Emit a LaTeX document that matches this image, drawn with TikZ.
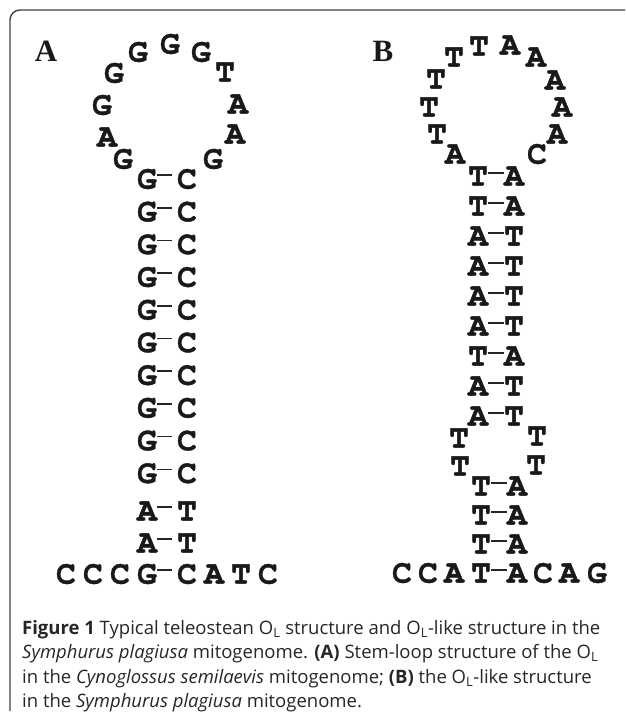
\documentclass[tikz,border=0pt]{standalone}
\usepackage{fontspec}
\newfontfamily\capfont{Open Sans}
\newfontfamily\labfont{Liberation Serif}
\newfontfamily\ntfont{texgyrecursor-bold.otf}[FakeBold=1.2]
\begin{document}
\begin{tikzpicture}[x=1pt,y=-1pt]
\tikzset{
 nt/.style={font=\ntfont\fontsize{33}{33}\selectfont, inner sep=0pt, text=black!90},
 lab/.style={font=\labfont\bfseries\fontsize{31}{31}\selectfont, inner sep=0pt, text=black!90},
 bond/.style={line width=1.6pt, black!85},
 frame/.style={line width=1.4pt, black!75, rounded corners=10pt},
 captext/.style={font=\capfont\fontsize{18.5}{24}\selectfont, anchor=base west, inner sep=0pt, text=black!85}
}
\useasboundingbox (0,0) rectangle (625,712);
\draw[frame] (625,10) -- (10,10) -- (10,711);
% labels
\node[lab] (labA) at (46,51) {A};
\node[lab] (labB) at (383,51) {B};
% loop A
\foreach \n/\x/\y/\t in {1/123/159/G,2/107/137/A,3/102/105/G,4/114/73/G,5/138/52/G,6/170/44/G,7/201/52/G,8/225/72/T,9/238/104/A,10/235/134/A,11/213/159/G}
  \node[nt] (aL\n) at (\x,\y) {\t};
% stem A
\foreach \i/\y/\l/\r in {0/179/G/C,1/211.7/G/C,2/244.4/G/C,3/277.1/G/C,4/309.8/G/C,5/342.5/G/C,6/375.2/G/C,7/407.9/G/C,8/440.6/G/C,9/473.3/G/C,10/511/A/T,11/543/A/T,12/574/G/C}{
  \node[nt] (aS\i) at (147,\y) {\l};
  \node[nt] (aT\i) at (187,\y) {\r};
  \draw[bond, shorten >=5pt] ([yshift=4pt]aS\i.east) -- ([yshift=4pt]aT\i.west);
}
\foreach \n/\x/\t in {1/66/C,2/93/C,3/120/C}
  \node[nt] (aF\n) at (\x,574) {\t};
\foreach \n/\x/\t in {1/214/A,2/241/T,3/268/C}
  \node[nt] (aG\n) at (\x,574) {\t};
% loop B
\foreach \n/\x/\y/\t in {1/455/154/A,2/437/134/T,3/429/107/T,4/436/79/T,5/454/57/T,6/479/46/T,7/510/45/A,8/536/57/A,9/555/80/A,10/562/107/A,11/557/134/A,12/537/154/C}
  \node[nt] (bL\n) at (\x,\y) {\t};
% upper stem B
\foreach \i/\y/\l/\r in {0/176/T/A,1/206/T/A,2/236/A/T,3/266/A/T,4/296/A/T,5/326/A/T,6/356/T/A,7/386/A/T,8/416/A/T}{
  \node[nt] (bS\i) at (478,\y) {\l};
  \node[nt] (bT\i) at (514,\y) {\r};
  \draw[bond] ([yshift=3pt]bS\i.east) -- ([yshift=3pt]bT\i.west);
}
% internal loop B
\node[nt] (bI1) at (459,438) {T};
\node[nt] (bI2) at (460,466) {T};
\node[nt] (bI3) at (537,436) {T};
\node[nt] (bI4) at (536,465) {T};
% lower stem B
\foreach \i/\y/\l/\r in {0/486/T/A,1/515/T/A,2/544/T/A,3/573/T/A}{
  \node[nt] (bU\i) at (481,\y) {\l};
  \node[nt] (bV\i) at (517,\y) {\r};
  \draw[bond] ([yshift=3pt]bU\i.east) -- ([yshift=3pt]bV\i.west);
}
\foreach \n/\x/\t in {1/402/C,2/428/C,3/454/A}
  \node[nt] (bF\n) at (\x,573) {\t};
\foreach \n/\x/\t in {1/543/C,2/569/A,3/597/G}
  \node[nt] (bG\n) at (\x,573) {\t};
% caption
\node[captext] (c1) at (22,634) {\textbf{Figure 1} Typical teleostean O\textsubscript{L} structure and O\textsubscript{L}-like structure in the};
\node[captext] (c2) at (22,658.5) {\textit{Symphurus plagiusa} mitogenome. \textbf{(A)} Stem-loop structure of the O\textsubscript{L}};
\node[captext] (c3) at (22,683) {in the \textit{Cynoglossus semilaevis} mitogenome; \textbf{(B)} the O\textsubscript{L}-like structure};
\node[captext] (c4) at (22,707) {in the \textit{Symphurus plagiusa} mitogenome.};
\end{tikzpicture}
\end{document}
